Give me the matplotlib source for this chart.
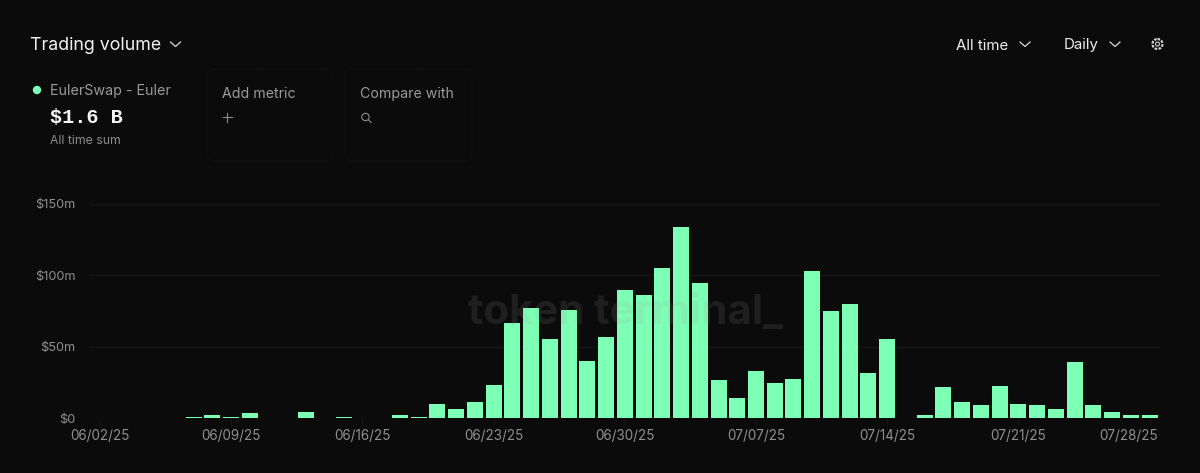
import matplotlib
matplotlib.use('Agg')
import matplotlib.pyplot as plt
from matplotlib.patches import FancyBboxPatch, Circle
from matplotlib.lines import Line2D
from matplotlib.transforms import ScaledTranslation
from datetime import date, timedelta

plt.rcParams['font.family'] = ['Inter', 'DejaVu Sans']

# daily volume in $m, one value per day starting 06/02/25
volume = [0, 0, 0, 0, 0, 1, 1.8, 1, 3.2, 0, 0, 4, 0, 1, 0, 0, 2.3, 1,
          9.8, 6, 11.4, 23, 66.3, 76.8, 55.5, 75.4, 39.9, 56.9, 89.4, 86.3,
          104.8, 133.5, 94.3, 26.6, 14.2, 32.7, 24.5, 27.5, 103.1, 74.7, 79.6,
          31.7, 55.5, 0, 2.3, 21.5, 11.4, 9.1, 22.2, 9.8, 9.1, 6, 39.2, 9.1,
          4, 2.3, 2.3]
y_ticks = [0, 50, 100, 150]
y_tick_labels = ['$0', '$50m', '$100m', '$150m']
x_ticks = [0, 7, 14, 21, 28, 35, 42, 49, 56]

start = date(2025, 6, 2)
x_tick_labels = [(start + timedelta(days=d)).strftime('%m/%d/%y') for d in x_ticks]

BG = '#0b0b0c'
GREEN = '#7dffb5'
W, H = 1200, 473

fig = plt.figure(figsize=(12, 4.73), dpi=100, facecolor=BG)

# overlay in pixel coords for the header widgets
ui = fig.add_axes([0, 0, 1, 1], zorder=3)
ui.set_xlim(0, W)
ui.set_ylim(H, 0)
ui.axis('off')
ui.patch.set_alpha(0)


def chevron(x, y, size=5):
    ui.add_line(Line2D([x - size, x, x + size], [y - 2, y + 2.5, y - 2], color='#d8d8d8', lw=0.9))


ui.text(30, 45.5, 'Trading volume', color='#f2f2f2', fontsize=12.8, va='center')
chevron(175.5, 44)
ui.text(956.5, 45.5, 'All time', color='#eeeeee', fontsize=10.8, va='center')
chevron(1025, 44)
ui.text(1064, 45.5, 'Daily', color='#eeeeee', fontsize=10.8, va='center')
chevron(1115, 44)
ui.add_patch(Circle((1157.5, 44), 5, fill=False, ec='#d0d0d0', lw=1.6, ls=(0, (1.2, 0.6))))
ui.add_patch(Circle((1157.5, 44), 2, fill=False, ec='#d0d0d0', lw=0.8))

ui.add_patch(Circle((37, 90), 4.2, color=GREEN, lw=0))
ui.text(50, 91, 'EulerSwap - Euler', color='#9a9a9a', fontsize=10.3, va='center')
ui.text(50, 117, '$1.6 B', color='#f5f5f5', fontsize=14.5, va='center', family='Liberation Mono', weight='bold')
ui.text(50, 140.5, 'All time sum', color='#8c8c8c', fontsize=8.8, va='center')

for x0, x1, label in [(207, 332, 'Add metric'), (345, 472, 'Compare with')]:
    ui.add_patch(FancyBboxPatch((x0 + 8, 77), x1 - x0 - 16, 76, boxstyle='round,pad=8', fill=False,
                                ec='#161618', lw=0.7, ls=(0, (1, 1))))
    ui.text(x0 + 15, 94, label, color='#9a9a9a', fontsize=10.2, va='center')
# plus sign and magnifier
ui.add_line(Line2D([222.5, 232], [117.5, 117.5], color='#8c8c8c', lw=0.8))
ui.add_line(Line2D([227.2, 227.2], [113, 122], color='#8c8c8c', lw=0.8))
ui.add_patch(Circle((365.5, 117), 3.7, fill=False, ec='#8c8c8c', lw=0.8))
ui.add_line(Line2D([368.3, 371], [119.8, 122.5], color='#8c8c8c', lw=0.8))

# plot area: day 0 sits at x=100px, $0 at y=418px, $150m at y=203.7px
px_per_day = 131.2 / 7
ax_left, ax_right = 90, 1160
ax_bottom, ax_top = 418, 203.7
ax = fig.add_axes([ax_left / W, 1 - ax_bottom / H, (ax_right - ax_left) / W, (ax_bottom - ax_top) / H],
                  facecolor='none', zorder=2)
ax.set_xlim((ax_left - 100) / px_per_day, (ax_right - 100) / px_per_day)
ax.set_ylim(0, 150)

ax.set_axisbelow(True)
ax.yaxis.grid(True, color='#171718', lw=1)
ax.xaxis.grid(False)
for s in ax.spines.values():
    s.set_visible(False)

ax.bar(range(len(volume)), volume, width=16 / px_per_day, color=GREEN, lw=0, zorder=3)

ax.set_yticks(y_ticks)
ax.set_yticklabels(y_tick_labels, color='#8f8f8f', fontsize=9.2)
ax.set_xticks(x_ticks)
ax.set_xticklabels(x_tick_labels, color='#8f8f8f', fontsize=9.7)
ax.tick_params(axis='y', length=0, pad=10.5)
ax.tick_params(axis='x', length=5, width=0.8, color='#171718', pad=3)
# the last date label stops near the last bar instead of centring on it
last_label = ax.get_xticklabels()[-1]
last_label.set_transform(last_label.get_transform() + ScaledTranslation(-21 / 100, 0, fig.dpi_scale_trans))

ax.text(625.5, 313, 'token terminal_', color='#9a9a9a', alpha=0.14, fontsize=30.2, weight='bold',
        ha='center', va='center', transform=ui.transData, zorder=5)

fig.savefig('out.png', dpi=100, facecolor=BG)
